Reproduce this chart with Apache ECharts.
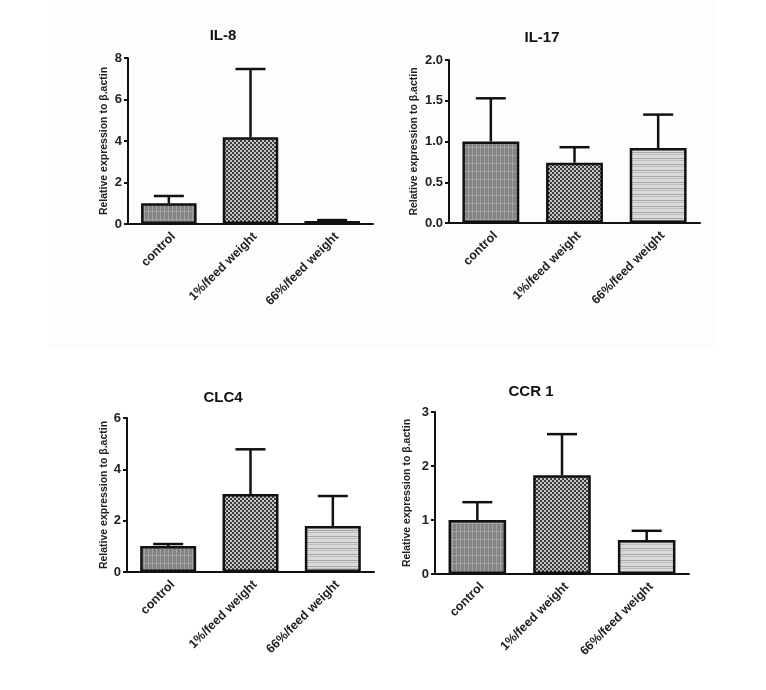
<!DOCTYPE html>
<html><head><meta charset="utf-8">
<script src="https://cdn.jsdelivr.net/npm/echarts@6/dist/echarts.min.js"></script>
<style>html,body{margin:0;padding:0;background:#fff}#c{width:766px;height:690px}</style>
</head><body><div id="c"></div>
<script>
const categories = ['control', '1%/feed weight', '66%/feed weight'];
const titles = ['IL-8', 'IL-17', 'CLC4', 'CCR 1'];
const il8Mean = [1.0, 4.18, 0.15];
const il8Err = [1.35, 7.47, 0.19];
const il17Mean = [1.0, 0.74, 0.92];
const il17Err = [1.53, 0.93, 1.33];
const clc4Mean = [1.01, 3.04, 1.79];
const clc4Err = [1.09, 4.78, 2.96];
const ccr1Mean = [1.0, 1.83, 0.63];
const ccr1Err = [1.33, 2.59, 0.80];
const yMax = [8, 2, 6, 3];
const yInterval = [2, 0.5, 2, 1];
const yDecimals = [0, 1, 0, 0];
const yName = 'Relative expression to β.actin';

const means = [il8Mean, il17Mean, clc4Mean, ccr1Mean];
const errs = [il8Err, il17Err, clc4Err, ccr1Err];

function makePattern(w, h, draw) {
  const c = document.createElement('canvas');
  c.width = w; c.height = h;
  const ctx = c.getContext('2d');
  draw(ctx);
  return { image: c, repeat: 'repeat' };
}
const patControl = makePattern(8, 8, ctx => {
  ctx.fillStyle = '#858585'; ctx.fillRect(0, 0, 8, 8);
  ctx.fillStyle = '#a2a2a2';
  ctx.fillRect(0, 0, 1, 8); ctx.fillRect(4, 0, 1, 8);
  ctx.fillRect(0, 3, 8, 1);
  ctx.fillStyle = '#6e6e6e'; ctx.fillRect(2, 6, 1, 1); ctx.fillRect(6, 2, 1, 1);
});
const patOne = makePattern(4, 4, ctx => {
  ctx.fillStyle = '#c4c4c4'; ctx.fillRect(0, 0, 4, 4);
  ctx.fillStyle = '#3c3c3c'; ctx.fillRect(0, 0, 2, 2); ctx.fillRect(2, 2, 2, 2);
});
const patSix = makePattern(4, 6, ctx => {
  ctx.fillStyle = '#dadada'; ctx.fillRect(0, 0, 4, 6);
  ctx.fillStyle = '#a6a6a6'; ctx.fillRect(0, 2, 4, 1);
  ctx.fillStyle = '#bdbdbd'; ctx.fillRect(0, 4, 4, 1);
});
const patterns = [patControl, patOne, patSix];

const grids = [
  { left: 128, top: 58, width: 245, height: 166 },
  { left: 449, top: 60, width: 251, height: 163 },
  { left: 127, top: 418, width: 247, height: 154 },
  { left: 435, top: 412, width: 254, height: 162 }
];
const titlePos = [[218, 23], [537, 25], [218, 385], [526, 379]];
const nameGaps = [18, 29, 17, 22];

const font = 'Liberation Sans, Arial, sans-serif';
const option = {
  backgroundColor: '#ffffff',
  animation: false,
  graphic: [{ type: 'rect', z: -10, shape: { x: 48, y: 0, width: 667, height: 348 }, style: { fill: '#fdfdfd' } }],
  title: titles.map((t, i) => ({
    text: t, left: titlePos[i][0], top: titlePos[i][1], textAlign: 'center',
    textStyle: { fontFamily: font, fontWeight: 'bold', fontSize: 15, color: '#111' }
  })),
  grid: grids,
  xAxis: grids.map((g, i) => ({
    type: 'category', gridIndex: i, data: categories,
    axisLine: { lineStyle: { color: '#111', width: 2 } },
    axisTick: { alignWithLabel: true, length: 5, lineStyle: { color: '#111', width: 2 } },
    axisLabel: { rotate: 45, fontFamily: font, fontWeight: 'bold', fontSize: 12.5, color: '#222', margin: 6, interval: 0,
      verticalAlign: 'top' }
  })),
  yAxis: grids.map((g, i) => ({
    type: 'value', gridIndex: i, min: 0, max: yMax[i], interval: yInterval[i],
    name: yName, nameLocation: 'middle', nameGap: nameGaps[i], nameRotate: 90,
    nameTextStyle: { fontFamily: font, fontWeight: 'bold', fontSize: 10.5, color: '#222' },
    splitLine: { show: false },
    axisLine: { show: true, lineStyle: { color: '#111', width: 2 } },
    axisTick: { show: true, length: 4, lineStyle: { color: '#111', width: 2 } },
    axisLabel: { fontFamily: font, fontWeight: 'bold', fontSize: 13, color: '#222', margin: 6,
      formatter: v => v.toFixed(yDecimals[i]) }
  })),
  series: []
};

means.forEach((m, i) => {
  option.series.push({
    type: 'bar', xAxisIndex: i, yAxisIndex: i, barWidth: '68%', z: 2,
    data: m.map((v, k) => ({ value: v, itemStyle: { color: patterns[k], borderColor: '#111', borderWidth: 2.5 } }))
  });
  option.series.push({
    type: 'custom', xAxisIndex: i, yAxisIndex: i, z: 3,
    data: m.map((v, k) => [k, v, errs[i][k]]),
    renderItem: (params, api) => {
      const x = api.value(0);
      const p0 = api.coord([x, api.value(1)]);
      const p1 = api.coord([x, api.value(2)]);
      const hw = 15;
      const st = { stroke: '#111', lineWidth: 2.5 };
      return { type: 'group', children: [
        { type: 'line', shape: { x1: p0[0], y1: p0[1], x2: p1[0], y2: p1[1] }, style: st },
        { type: 'line', shape: { x1: p1[0] - hw, y1: p1[1], x2: p1[0] + hw, y2: p1[1] }, style: st }
      ] };
    }
  });
});

const chart = echarts.init(document.getElementById('c'));
chart.setOption(option);
</script></body></html>
